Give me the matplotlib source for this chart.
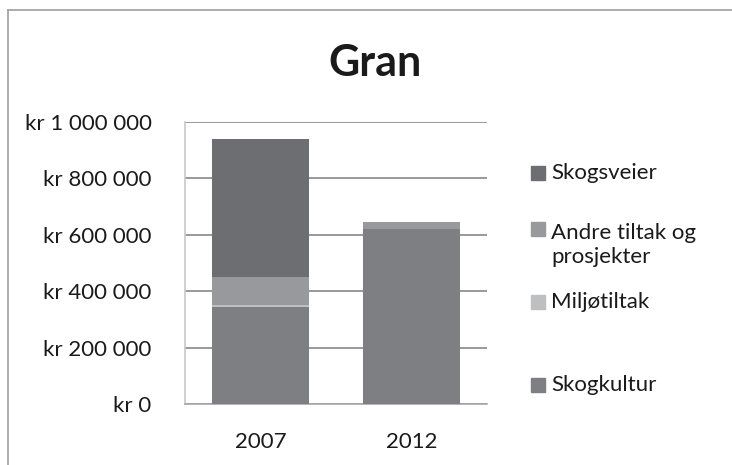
import matplotlib
matplotlib.use("Agg")
import matplotlib.pyplot as plt
from matplotlib.patches import Rectangle
from matplotlib.lines import Line2D
import numpy as np

# Data
years = ["2007", "2012"]
skogkultur = [345000, 620000]
miljotiltak = [6000, 0]
andre_tiltak = [100000, 26000]
skogsveier = [489000, 0]

series_names = ["Skogkultur", "Miljøtiltak", "Andre tiltak og\nprosjekter", "Skogsveier"]
series_colors = ["#7e7f82", "#bebfc1", "#98999c", "#6d6e71"]
yticks = [0, 200000, 400000, 600000, 800000, 1000000]

plt.rcParams['font.family'] = ['Lato', 'DejaVu Sans']

W, H = 732, 465
fig = plt.figure(figsize=(W / 100, H / 100), dpi=100)

# outer chart frame: only left and top edges are visible in the source
frame = dict(transform=fig.transFigure, color="#a6a6a6", linewidth=1.3)
fig.lines.append(Line2D([8 / W, 8 / W], [0, 1 - 10 / H], **frame))
fig.lines.append(Line2D([8 / W, 1], [1 - 10 / H, 1 - 10 / H], **frame))

ax = fig.add_axes([185 / W, (H - 404) / H, 302 / W, (404 - 122) / H])

x = np.arange(len(years))
bottom = np.zeros(len(years))
for vals, name, col in zip([skogkultur, miljotiltak, andre_tiltak, skogsveier],
                           series_names, series_colors):
    ax.bar(x, vals, width=0.64, bottom=bottom, color=col, linewidth=0, zorder=3)
    bottom += np.array(vals)

ax.set_xlim(-0.5, 1.5)
ax.set_ylim(0, 1000000)
ax.set_yticks(yticks)
ax.set_yticklabels(["kr " + f"{v:,}".replace(",", " ") for v in yticks], fontsize=16, color="#1a1a1a")
ax.set_xticks(x)
ax.set_xticklabels(years, fontsize=16, color="#1a1a1a")
ax.tick_params(length=0)
ax.tick_params(axis='y', pad=24)
ax.tick_params(axis='x', pad=20)
ax.grid(axis='y', color="#878787", linewidth=1.2, zorder=0)
for s in ["top", "right"]:
    ax.spines[s].set_visible(False)
ax.spines["left"].set_color("#c8c8c8")
ax.spines["left"].set_linewidth(1.2)
ax.spines["bottom"].set_color("#a8a8a8")
ax.spines["bottom"].set_linewidth(1.2)

fig.text(375 / W, 1 - 63 / H, "Gran", ha="center", va="center",
         fontsize=31, fontweight="bold", color="#1a1a1a")

# legend laid out like the Excel original
legend_rows = [(173, "Skogsveier", series_colors[3]),
               (245, "Andre tiltak og\nprosjekter", series_colors[2]),
               (302, "Miljøtiltak", series_colors[1]),
               (385, "Skogkultur", series_colors[0])]
for yc, label, col in legend_rows:
    first_y = yc - 16 if "\n" in label else yc
    fig.patches.append(Rectangle((531 / W, 1 - (first_y + 7) / H), 14 / W, 14 / H,
                                 transform=fig.transFigure, color=col))
    fig.text(551 / W, 1 - yc / H, label, ha="left", va="center",
             fontsize=16, color="#1a1a1a", linespacing=1.3)

fig.savefig("out.png", dpi=100)
